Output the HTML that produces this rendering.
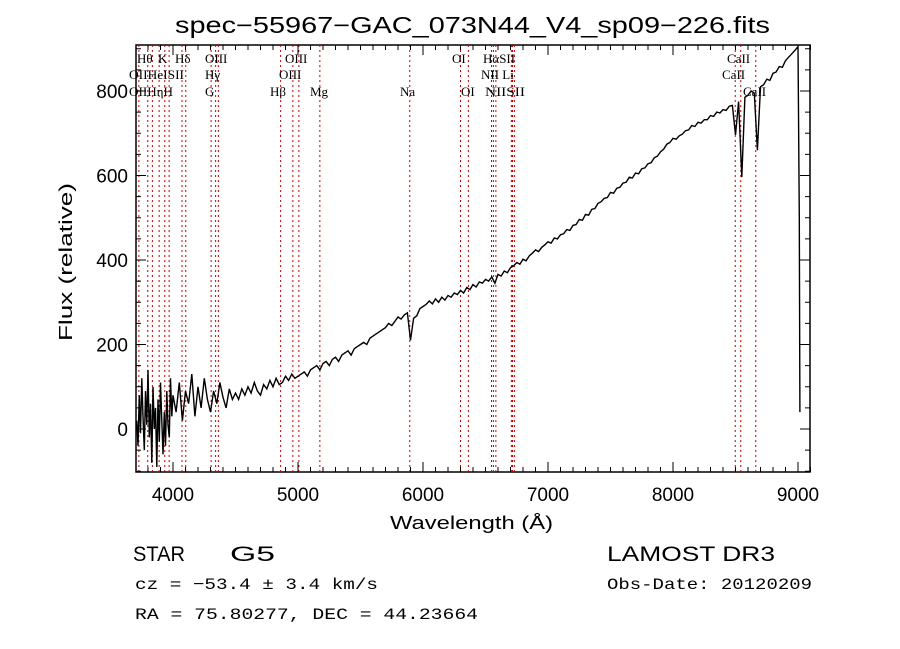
<!DOCTYPE html>
<html><head><meta charset="utf-8"><style>
body{margin:0;background:#fff;width:900px;height:649px;overflow:hidden}
svg{display:block}
text{font-family:"Liberation Serif",serif;fill:#000}
.s{font-family:"Liberation Sans",sans-serif}
.m{font-family:"Liberation Mono",monospace}
</style></head><body>
<svg id="c" width="900" height="649">
<text class="s" x="175" y="33" font-size="23" textLength="595" lengthAdjust="spacingAndGlyphs">spec−55967−GAC_073N44_V4_sp09−226.fits</text>
<rect x="136" y="45" width="674" height="427" fill="none" stroke="#000" stroke-width="1.5"/>
<g id="lines"></g>
<g id="ticks"></g>
<g id="spec"></g>
<g font-size="13">
<text x="137" y="63">Hθ</text><text x="158" y="63">K</text><text x="175" y="63">Hδ</text><text x="205" y="63">OIII</text><text x="285" y="63">OIII</text><text x="452" y="63">OI</text><text x="483" y="63">HαSII</text><text x="727" y="63">CaII</text>
<text x="129" y="79" textLength="55" lengthAdjust="spacingAndGlyphs">OIIHeISII</text><text x="205" y="79">Hγ</text><text x="279" y="79">OIII</text><text x="481" y="79">NII Li</text><text x="722" y="79">CaII</text>
<text x="129" y="96" textLength="44" lengthAdjust="spacingAndGlyphs">OIIHηH</text><text x="205" y="96">G</text><text x="270" y="96">Hβ</text><text x="310" y="96">Mg</text><text x="400" y="96">Na</text><text x="461" y="96">OI</text><text x="485" y="96" textLength="40" lengthAdjust="spacingAndGlyphs">NIISII</text><text x="743" y="96">CaII</text>
</g>
<text class="s" x="390" y="529" font-size="18" textLength="163" lengthAdjust="spacingAndGlyphs">Wavelength (Å)</text>
<text class="s" x="0" y="0" font-size="18" textLength="158" lengthAdjust="spacingAndGlyphs" transform="translate(72,341) rotate(-90)">Flux (relative)</text>
<text class="s" x="133" y="561" font-size="21" textLength="52" lengthAdjust="spacingAndGlyphs">STAR</text>
<text class="s" x="230" y="561" font-size="21" textLength="45" lengthAdjust="spacingAndGlyphs">G5</text>
<text class="m" x="135" y="589" font-size="16" textLength="243" lengthAdjust="spacingAndGlyphs">cz = −53.4 ± 3.4 km/s</text>
<text class="m" x="135" y="619" font-size="16" textLength="343" lengthAdjust="spacingAndGlyphs">RA =  75.80277, DEC =  44.23664</text>
<text class="s" x="607" y="561" font-size="21" textLength="168" lengthAdjust="spacingAndGlyphs">LAMOST DR3</text>
<text class="m" x="607" y="589" font-size="16" textLength="205" lengthAdjust="spacingAndGlyphs">Obs-Date: 20120209</text>
</svg>
<script>
const xTicks=[4000,5000,6000,7000,8000,9000];
const yTicks=[0,200,400,600,800];
const lineWl=[3727,3798,3835,3889,3934,3969,4072,4102,4305,4341,4363,4861,4959,5007,5175,5894,6300,6363,6548,6563,6583,6707,6716,6731,8498,8542,8662];
const fluxBlue=[20,-40,80,-10,120,30,-50,90,10,140,-20,60,-80,100,0,50,-90,70,-30,110,20,-60,40,-40,90,10,-20,120,30,80];
const fluxRed=[40,110,20,90,60,130,30,100,50,120,70,40,90,60,110,75,50,95,70,85,
70,95,80,100,85,110,90,80,105,95,115,100,120,105,110,125,115,130,120,125,
130,135,125,140,145,150,140,155,160,150,165,170,160,175,180,185,175,190,195,200,
205,200,215,220,225,230,235,240,250,245,255,265,260,270,275,210,262,268,285,290,
295,303,296,308,300,312,305,316,312,322,318,328,322,335,330,342,336,348,345,354,
350,360,345,366,362,374,370,382,386,394,390,402,398,410,416,424,420,430,436,443,
440,452,450,460,462,472,470,482,484,496,494,508,506,520,522,534,538,546,548,560,
558,570,572,582,584,596,594,606,604,616,618,628,630,642,646,656,662,674,678,688,
686,694,698,706,708,718,716,726,724,732,732,742,740,750,748,756,754,764,766,696,
775,596,785,790,800,795,660,810,815,828,825,842,845,858,856,872,880,888,896,905];
const fluxEnd=[500,40];
const NS='http://www.w3.org/2000/svg';
const X=w=>173+(w-4000)*0.125;
const Y=f=>429-f*0.4225;
function mk(t,a,p){const e=document.createElementNS(NS,t);for(const k in a)e.setAttribute(k,a[k]);p.appendChild(e);return e;}
const wl=[],fl=[];
fluxBlue.forEach((f,i)=>{wl.push(3710+i*10);fl.push(f);});
fluxRed.forEach((f,i)=>{wl.push(4025+i*25);fl.push(f);});
fluxEnd.forEach((f,i)=>{wl.push(9010+i*5);fl.push(f);});
const L=document.getElementById('lines');
lineWl.forEach(w=>{const l=mk('line',{x1:X(w),x2:X(w),y1:45,y2:472,stroke:'#c00000','stroke-width':1,'stroke-dasharray':'2,3'},L);

});
const T=document.getElementById('ticks');
for(let w=3800;w<=9100;w+=100){const maj=w%1000===0;const h=maj?10:5;
mk('line',{x1:X(w),x2:X(w),y1:472,y2:472-h,stroke:'#000'},T);mk('line',{x1:X(w),x2:X(w),y1:45,y2:45+h,stroke:'#000'},T);}
xTicks.forEach(w=>{const t=mk('text',{x:X(w),y:501,'font-size':19,'text-anchor':'middle',class:'s'},T);t.textContent=w;

});
for(let f=-100;f<=900;f+=50){const maj=f%200===0;const h=maj?10:5;
mk('line',{x1:136,x2:136+h,y1:Y(f),y2:Y(f),stroke:'#000'},T);mk('line',{x1:810,x2:810-h,y1:Y(f),y2:Y(f),stroke:'#000'},T);}
yTicks.forEach(f=>{const t=mk('text',{x:128,y:Y(f)+7,'font-size':19,'text-anchor':'end',class:'s'},T);t.textContent=f;

});
const S=document.getElementById('spec');
const p=mk('polyline',{points:wl.map((w,i)=>X(w).toFixed(1)+','+Math.min(472,Math.max(45,Y(fl[i]))).toFixed(1)).join(' '),fill:'none',stroke:'#000','stroke-width':1.4},S);


</script>
</body></html>
